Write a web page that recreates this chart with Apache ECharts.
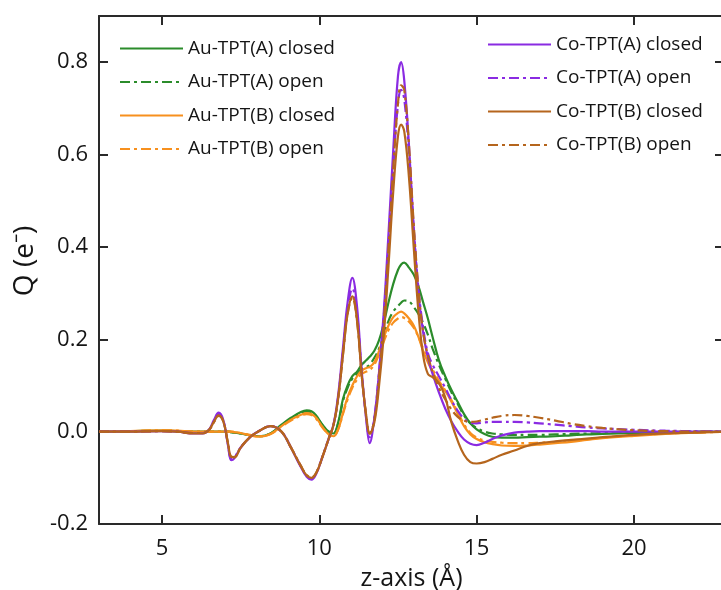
<!DOCTYPE html>
<html>
<head>
<meta charset="utf-8">
<script src="https://cdn.jsdelivr.net/npm/echarts@6/dist/echarts.min.js"></script>
<style>
html,body{margin:0;padding:0;background:#fff;}
#chart{width:721px;height:590px;}
</style>
</head>
<body>
<div id="chart"></div>
<script>
// z-axis positions (Å)
const zValues = [3,4,5,5.5,6, 6.3,6.5,6.65,6.8,6.95, 7.1,7.2,7.3,7.5,7.8, 8.1,8.45,8.8,9.1,9.4,
  9.6,9.75,9.9,10.1,10.3, 10.45,10.6,10.75,10.9,11.05, 11.2,11.35,11.5,11.6,11.75,
  11.9,12.05,12.2,12.35,12.5, 12.6,12.7,12.85,13.0,13.15, 13.3,13.45,13.6,13.8,14.0,
  14.2,14.4,14.6,14.8,15.0, 15.25,15.5,15.8,16.2,16.6, 17,17.5,18,18.5,19, 20,21,22,23];

const seriesNames = ['Au-TPT(A) closed','Au-TPT(A) open','Au-TPT(B) closed','Au-TPT(B) open',
  'Co-TPT(A) closed','Co-TPT(A) open','Co-TPT(B) closed','Co-TPT(B) open'];

const auAClosed = [0,0.001,0.002,0.001,0, 0,0,0,0,0, 0,-0.001,-0.002,-0.004,-0.008,
  -0.01,-0.004,0.015,0.03,0.042, 0.046,0.044,0.035,0.015,0.0, -0.004,0.02,0.07,0.1,0.12,
  0.13,0.145,0.155,0.162,0.175, 0.198,0.235,0.28,0.32,0.35, 0.362,0.366,0.355,0.34,0.315,
  0.28,0.245,0.205,0.155,0.12, 0.09,0.064,0.038,0.018,0.005, -0.005,-0.011,-0.013,-0.013,-0.012,
  -0.011,-0.01,-0.008,-0.006,-0.005, -0.003,-0.002,-0.001,0];

const auAOpen = [0,0.001,0.002,0.001,0, 0,0,0,0,0, 0,-0.001,-0.002,-0.004,-0.008,
  -0.01,-0.004,0.014,0.028,0.04, 0.044,0.042,0.033,0.014,0.0, -0.004,0.018,0.065,0.095,0.115,
  0.125,0.135,0.14,0.145,0.16, 0.18,0.21,0.24,0.26,0.272, 0.279,0.284,0.282,0.27,0.255,
  0.235,0.21,0.18,0.145,0.115, 0.085,0.06,0.035,0.018,0.008, 0.0,-0.004,-0.006,-0.007,-0.007,
  -0.007,-0.006,-0.005,-0.004,-0.003, -0.002,-0.001,0,0];

const auBClosed = [0,0.001,0.003,0.002,0, 0,0,0,0,0, 0,0,-0.001,-0.003,-0.008,
  -0.011,-0.005,0.012,0.026,0.036, 0.04,0.038,0.03,0.01,-0.006, -0.01,0.005,0.04,0.075,0.1,
  0.12,0.132,0.138,0.14,0.15, 0.175,0.205,0.23,0.248,0.257, 0.26,0.256,0.245,0.23,0.205,
  0.175,0.15,0.13,0.105,0.088, 0.065,0.038,0.012,-0.006,-0.016, -0.023,-0.027,-0.03,-0.031,-0.03,
  -0.028,-0.025,-0.022,-0.018,-0.014, -0.009,-0.005,-0.002,0];

const auBOpen = [0,0.001,0.003,0.002,0, 0,0,0,0,0, 0,0,-0.001,-0.003,-0.007,
  -0.01,-0.005,0.011,0.024,0.034, 0.038,0.036,0.028,0.009,-0.005, -0.009,0.005,0.038,0.07,0.095,
  0.113,0.125,0.13,0.133,0.145, 0.168,0.195,0.22,0.236,0.245, 0.248,0.246,0.238,0.225,0.205,
  0.18,0.155,0.135,0.11,0.09, 0.068,0.042,0.016,-0.003,-0.013, -0.019,-0.022,-0.024,-0.025,-0.025,
  -0.024,-0.022,-0.019,-0.016,-0.013, -0.008,-0.004,-0.002,0];

const coAClosed = [0,0,0.001,0,-0.004, -0.004,0.005,0.025,0.041,0.025, -0.03,-0.062,-0.058,-0.035,-0.012,
  0.002,0.012,0.0,-0.035,-0.075, -0.098,-0.104,-0.092,-0.055,-0.015, 0.015,0.08,0.18,0.28,0.333,
  0.27,0.13,0.02,-0.025,0.03, 0.13,0.26,0.43,0.61,0.77, 0.80,0.76,0.62,0.44,0.30,
  0.215,0.16,0.125,0.085,0.05, 0.022,0.0,-0.017,-0.026,-0.029, -0.024,-0.016,-0.008,-0.002,0,
  0.001,0.001,0.001,0.001,0, 0,0,0,0];

const coAOpen = [0,0,0.001,0,-0.003, -0.003,0.004,0.022,0.038,0.024, -0.028,-0.058,-0.056,-0.034,-0.012,
  0.002,0.012,0.0,-0.034,-0.073, -0.096,-0.101,-0.09,-0.054,-0.015, 0.014,0.075,0.17,0.265,0.31,
  0.255,0.125,0.025,-0.012,0.03, 0.13,0.25,0.4,0.57,0.71, 0.74,0.72,0.6,0.44,0.31,
  0.225,0.17,0.145,0.12,0.095, 0.068,0.045,0.028,0.019,0.018, 0.02,0.021,0.021,0.021,0.02,
  0.018,0.015,0.012,0.009,0.007, 0.004,0.002,0.001,0];

const coBClosed = [0,0,0.001,0,-0.004, -0.004,0.004,0.021,0.035,0.022, -0.026,-0.055,-0.056,-0.035,-0.012,
  0.002,0.012,0.0,-0.035,-0.073, -0.095,-0.1,-0.09,-0.055,-0.015, 0.014,0.072,0.165,0.255,0.293,
  0.24,0.12,0.03,-0.005,0.02, 0.1,0.21,0.36,0.52,0.64, 0.665,0.65,0.55,0.40,0.26,
  0.165,0.125,0.118,0.105,0.075, 0.02,-0.02,-0.05,-0.066,-0.069, -0.066,-0.059,-0.05,-0.041,-0.031,
  -0.025,-0.021,-0.018,-0.015,-0.012, -0.007,-0.004,-0.002,0];

const coBOpen = [0,0,0.001,0,-0.003, -0.003,0.004,0.02,0.034,0.022, -0.025,-0.054,-0.055,-0.034,-0.012,
  0.002,0.012,0.0,-0.034,-0.072, -0.094,-0.099,-0.089,-0.054,-0.015, 0.014,0.072,0.165,0.255,0.29,
  0.238,0.12,0.03,-0.003,0.025, 0.12,0.24,0.4,0.57,0.71, 0.75,0.74,0.62,0.45,0.31,
  0.215,0.165,0.13,0.095,0.07, 0.048,0.032,0.024,0.021,0.022, 0.026,0.03,0.034,0.036,0.034,
  0.03,0.024,0.017,0.012,0.008, 0.003,0.001,0,0];

const xTicks = [5, 10, 15, 20];
const yTicks = [-0.2, 0, 0.2, 0.4, 0.6, 0.8];

const allData = [auAClosed, auAOpen, auBClosed, auBOpen, coAClosed, coAOpen, coBClosed, coBOpen];
const colors = ['#2b8c2b','#2b8c2b','#f7901e','#f7901e','#8a2be2','#8a2be2','#b5651d','#b5651d'];
const dashDot = [10, 4, 3, 4];

const FONT = 'Open Sans';
const TEXT = '#151515';
const axisLineStyle = { color: '#2a2a2a', width: 2 };

const series = allData.map((arr, k) => ({
  name: seriesNames[k],
  type: 'line',
  data: zValues.map((z, i) => [z, arr[i]]),
  showSymbol: false,
  symbol: 'none',
  smooth: 0.4,
  color: colors[k],
  lineStyle: { color: colors[k], width: 2.2, type: (k % 2 === 1) ? dashDot : 'solid' },
  z: 2 + k
}));

const legendText = { fontSize: 19, fontFamily: FONT, color: TEXT };
const legendCommon = {
  orient: 'vertical', itemWidth: 63, itemHeight: 14, itemGap: 14.5, padding: 0,
  textStyle: legendText, itemStyle: { opacity: 0 }
};

const option = {
  animation: false,
  backgroundColor: '#fff',
  grid: { left: 99, top: 16, width: 625, height: 508, containLabel: false, outerBoundsMode: 'none' },
  legend: [
    Object.assign({ data: seriesNames.slice(0, 4), left: 119, top: 39 }, legendCommon),
    Object.assign({ data: seriesNames.slice(4), left: 487, top: 35 }, legendCommon)
  ],
  xAxis: [
    {
      type: 'value', min: 3, max: 22.86, position: 'bottom',
      name: 'z-axis (Å)', nameLocation: 'middle', nameGap: 42,
      nameTextStyle: { fontSize: 25, fontFamily: FONT, color: TEXT },
      axisLine: { show: true, onZero: false, lineStyle: axisLineStyle },
      axisTick: { show: true, inside: true, length: 9, lineStyle: axisLineStyle, customValues: xTicks },
      axisLabel: { show: true, customValues: xTicks, fontSize: 22, fontFamily: FONT, color: TEXT, margin: 14 },
      splitLine: { show: false }
    },
    {
      type: 'value', min: 3, max: 22.86, position: 'top',
      axisLine: { show: true, onZero: false, lineStyle: axisLineStyle },
      axisTick: { show: true, inside: true, length: 9, lineStyle: axisLineStyle, customValues: xTicks },
      axisLabel: { show: false },
      splitLine: { show: false }
    }
  ],
  yAxis: [
    {
      type: 'value', min: -0.2, max: 0.9, position: 'left',
      name: 'Q (e⁻)', nameLocation: 'middle', nameGap: 60,
      nameTextStyle: { fontSize: 28, fontFamily: FONT, color: TEXT, padding: [0, 0, 0, 18] },
      axisLine: { show: true, onZero: false, lineStyle: axisLineStyle },
      axisTick: { show: true, inside: true, length: 9, lineStyle: axisLineStyle, customValues: yTicks },
      axisLabel: { show: true, customValues: yTicks, fontSize: 22, fontFamily: FONT, color: TEXT, margin: 11,
        formatter: v => v.toFixed(1) },
      splitLine: { show: false }
    },
    {
      type: 'value', min: -0.2, max: 0.9, position: 'right',
      axisLine: { show: true, onZero: false, lineStyle: axisLineStyle },
      axisTick: { show: true, inside: true, length: 9, lineStyle: axisLineStyle, customValues: yTicks },
      axisLabel: { show: false },
      splitLine: { show: false }
    }
  ],
  series: series
};

const chart = echarts.init(document.getElementById('chart'), null, { renderer: 'canvas' });
chart.setOption(option);
</script>
</body>
</html>
